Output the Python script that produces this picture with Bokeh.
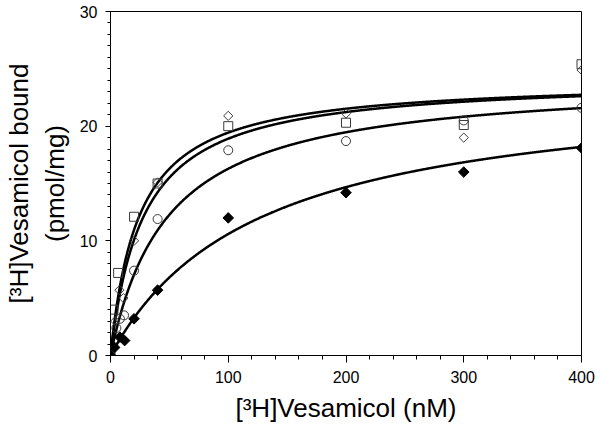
import numpy as np
from bokeh.plotting import figure
from bokeh.models import Range1d, FixedTicker
from bokeh.embed import file_html
from bokeh.resources import INLINE

# Data
sq_x = [0, 2.5, 6.5, 20, 40, 100, 200, 300, 400]
sq_y = [0, 4.0, 7.2, 12.1, 15.0, 20.0, 20.3, 20.1, 25.4]

od_x = [0, 4, 7.5, 11, 20, 40, 100, 200, 300, 400]
od_y = [0, 3.0, 5.7, 5.0, 10.0, 15.1, 20.9, 21.1, 19.0, 24.9]

ci_x = [0, 5, 8, 11.5, 20, 40, 100, 200, 300, 400]
ci_y = [0, 2.4, 3.2, 3.5, 7.4, 11.9, 17.9, 18.7, 20.5, 21.6]

fd_x = [0, 3.5, 8, 12, 20, 40, 100, 200, 300, 400]
fd_y = [0, 0.7, 1.6, 1.3, 3.2, 5.7, 12.0, 14.2, 16.0, 18.1]

# Saturation-binding fit parameters (Bmax in pmol/mg, Kd in nM), one per curve
fit_bmax = [24.1, 24.2, 24.2, 23.9]
fit_kd = [24.0, 28.0, 48.6, 125.6]

x_ticks = [0, 100, 200, 300, 400]
y_ticks = [0, 10, 20, 30]

FONT = "Liberation Sans"

p = figure(width=596, height=430, output_backend="svg", toolbar_location=None,
           x_range=Range1d(0, 400), y_range=Range1d(0, 30),
           min_border_left=110, min_border_right=15, min_border_top=11, min_border_bottom=75)
p.grid.visible = False
p.outline_line_color = "black"
p.outline_line_width = 1
p.background_fill_color = "white"
p.border_fill_color = "white"

xs = np.linspace(0, 400, 801)
for bmax, kd in zip(fit_bmax, fit_kd):
    p.line(xs, bmax * xs / (kd + xs), line_color="black", line_width=2.5)

edge = "#3a3a3a"
p.scatter(sq_x, sq_y, marker="square", size=9, fill_alpha=0, line_color=edge, line_width=1)
p.scatter(od_x, od_y, marker="square", size=6.5, angle=np.pi / 4, fill_alpha=0, line_color=edge, line_width=1)
p.scatter(ci_x, ci_y, marker="circle", size=9, fill_alpha=0, line_color=edge, line_width=1)
p.scatter(fd_x, fd_y, marker="square", size=7.5, angle=np.pi / 4, fill_color="black", line_color="black", line_width=1)

xa = p.xaxis[0]
ya = p.yaxis[0]
xa.ticker = FixedTicker(ticks=x_ticks, minor_ticks=list(range(0, 401, 20)))
ya.ticker = FixedTicker(ticks=y_ticks, minor_ticks=list(range(0, 31, 1)))

for ax in (xa, ya):
    ax.axis_line_color = "black"
    ax.major_tick_line_color = "black"
    ax.minor_tick_line_color = "black"
    ax.major_tick_in = 0
    ax.minor_tick_in = 0
    ax.major_label_text_font = FONT
    ax.major_label_text_font_size = "16px"
    ax.major_label_text_color = "black"
    ax.axis_label_text_font = FONT
    ax.axis_label_text_font_style = "normal"
    ax.axis_label_text_font_size = "26px"
    ax.axis_label_text_color = "black"

xa.major_tick_out = 7
xa.minor_tick_out = 4
ya.major_tick_out = 5
ya.minor_tick_out = 3
xa.major_label_standoff = 8
ya.major_label_standoff = 8
xa.axis_label_standoff = 7
ya.axis_label_standoff = 7

xa.axis_label = "[³H]Vesamicol (nM)"
ya.axis_label = "[³H]Vesamicol bound\n(pmol/mg)"

open("out.html", "w").write(file_html(p, INLINE))
